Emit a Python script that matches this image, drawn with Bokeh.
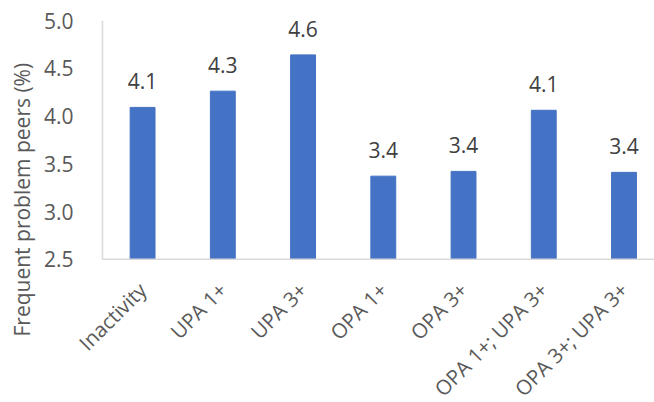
import math
from bokeh.plotting import figure
from bokeh.models import Range1d, FixedTicker, Title, ColumnDataSource, LabelSet
from bokeh.core.properties import value
from bokeh.embed import file_html
from bokeh.resources import INLINE

categories = ["Inactivity", "UPA 1+", "UPA 3+", "OPA 1+", "OPA 3+", "OPA 1+; UPA 3+", "OPA 3+; UPA 3+"]
values = [4.09, 4.26, 4.64, 3.37, 3.42, 4.06, 3.41]
labels = ["4.1", "4.3", "4.6", "3.4", "3.4", "4.1", "3.4"]
y_ticks = [2.5, 3.0, 3.5, 4.0, 4.5, 5.0]

FONT = "Open Sans"
Y_MIN = y_ticks[0]
Y_MAX = y_ticks[-1]
xs = list(range(len(categories)))
src = ColumnDataSource(dict(x=xs, top=values, lab=labels, cat=categories, base=[Y_MIN] * len(xs)))

# frame extends below and left of the value axis so the slanted category labels fit inside it
p = figure(width=654, height=402, output_backend="svg", toolbar_location=None,
           x_range=Range1d(-0.886, 6.38), y_range=Range1d(1.0, Y_MAX),
           min_border_left=70, min_border_right=0, min_border_top=20, min_border_bottom=0)
p.outline_line_color = None
p.grid.visible = False
p.xaxis.visible = False

p.vbar(x="x", top="top", bottom=Y_MIN, width=0.31, source=src, fill_color="#4472C4", line_color="#4472C4")
p.text(x="x", y="top", text="lab", source=src, y_offset=-18, text_align="center",
       text_baseline="bottom", text_font=value(FONT), text_font_size="21px", text_color="#404040")

# category axis line and value axis line
p.segment(x0=[-0.5], y0=[Y_MIN], x1=[6.38], y1=[Y_MIN], line_color="#D9D9D9", line_width=1.5)
p.segment(x0=[-0.5], y0=[Y_MIN], x1=[-0.5], y1=[Y_MAX], line_color="#D9D9D9", line_width=1.5)

xl = LabelSet(x="x", y="base", text="cat", source=src, angle=math.pi / 4,
              text_align="right", text_baseline="top", x_offset=-10, y_offset=-17,
              text_font=value(FONT), text_font_size="20.5px", text_color="#595959")
p.add_layout(xl)

ay = p.yaxis[0]
ay.ticker = FixedTicker(ticks=y_ticks)
ay.major_label_overrides = {t: f"{t:.1f}" for t in y_ticks}
ay.major_tick_line_color = None
ay.minor_tick_line_color = None
ay.axis_line_color = None
ay.major_label_text_font = FONT
ay.major_label_text_font_size = "21px"
ay.major_label_text_color = "#595959"
ay.major_label_standoff = -8

t = Title(text="Frequent problem peers (%)", align="left", offset=66,
          text_font=FONT, text_font_size="21px", text_font_style="normal", text_color="#595959")
p.add_layout(t, "left")

open("out.html", "w").write(file_html(p, INLINE))
